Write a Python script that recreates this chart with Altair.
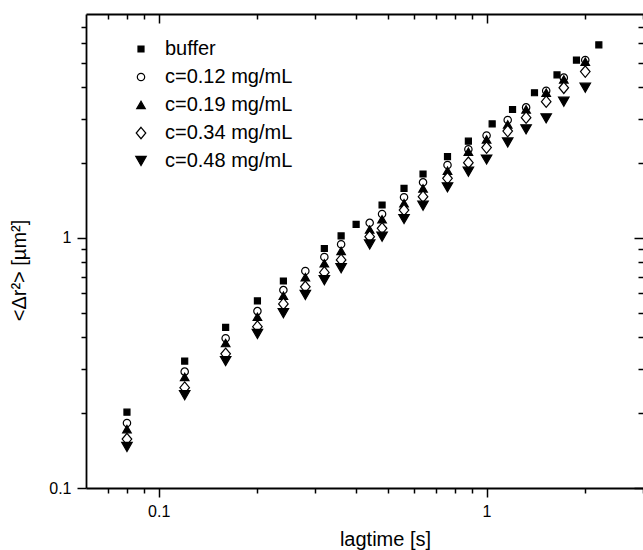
import altair as alt
import pandas as pd

series_names = ["buffer", "c=0.12 mg/mL", "c=0.19 mg/mL", "c=0.34 mg/mL", "c=0.48 mg/mL"]
shapes = ["square", "circle", "triangle-up", "M0,-1.2L1,0L0,1.2L-1,0Z", "triangle-down"]
fills = ["black", "white", "black", "white", "black"]
strokes = ["black", "black", "black", "black", "black"]
sizes = [36, 110, 42, 110, 42]

lag_buffer = [0.08, 0.12, 0.16, 0.2, 0.24, 0.32, 0.36, 0.40, 0.48, 0.56, 0.64, 0.76, 0.88,
              1.04, 1.2, 1.4, 1.64, 1.88, 2.2]
msd_buffer = [0.201, 0.322, 0.439, 0.56, 0.673, 0.908, 1.019, 1.134, 1.355, 1.58, 1.803, 2.115, 2.44,
              2.86, 3.266, 3.81, 4.49, 5.15, 5.92]

lag_c = [0.08, 0.12, 0.16, 0.2, 0.24, 0.28, 0.32, 0.36, 0.44, 0.48, 0.56, 0.64, 0.76, 0.88,
         1.0, 1.16, 1.32, 1.52, 1.72, 2.0]
msd_c012 = [0.182, 0.292, 0.397, 0.51, 0.619, 0.738, 0.839, 0.944, 1.15, 1.247, 1.455, 1.67, 1.959, 2.264,
            2.57, 2.965, 3.33, 3.88, 4.38, 5.15]
msd_c019 = [0.172, 0.278, 0.38, 0.484, 0.588, 0.697, 0.792, 0.887, 1.081, 1.188, 1.377, 1.58, 1.859, 2.215,
            2.48, 2.844, 3.27, 3.81, 4.31, 5.07]
msd_c034 = [0.157, 0.252, 0.344, 0.442, 0.545, 0.638, 0.728, 0.817, 1.012, 1.093, 1.294, 1.463, 1.733, 2.0,
            2.30, 2.677, 3.03, 3.51, 3.99, 4.63]
msd_c048 = [0.146, 0.235, 0.322, 0.413, 0.5, 0.592, 0.678, 0.757, 0.942, 1.012, 1.191, 1.346, 1.594, 1.842,
            2.06, 2.41, 2.72, 3.01, 3.51, 3.99]

x_major = [0.1, 1]
x_minor = [0.07, 0.08, 0.09, 0.2, 0.3, 0.4, 0.5, 0.6, 0.7, 0.8, 0.9, 2, 3]
y_major = [0.1, 1]
y_minor = [0.2, 0.3, 0.4, 0.5, 0.6, 0.7, 0.8, 0.9, 2, 3, 4, 5, 6, 7]

rows = []
for t, v in zip(lag_buffer, msd_buffer):
    rows.append({"series": series_names[0], "lag": t, "msd": v})
for name, vals in zip(series_names[1:], [msd_c012, msd_c019, msd_c034, msd_c048]):
    for t, v in zip(lag_c, vals):
        rows.append({"series": name, "lag": t, "msd": v})
df = pd.DataFrame(rows)

xscale = alt.Scale(type="log", domain=[0.06, 3.0], nice=False)
yscale = alt.Scale(type="log", domain=[0.1, 7.87], nice=False)

common = dict(tickWidth=1.5, tickColor="black", grid=False, domainColor="black", domainWidth=1.8)

leg = alt.Legend(title=None)

# data layer: bottom/left minor ticks plus the frame lines
points = alt.Chart(df).mark_point(filled=True, strokeWidth=1.2, opacity=1).encode(
    x=alt.X("lag:Q", scale=xscale,
            axis=alt.Axis(orient="bottom", values=x_minor, labels=False, title=None,
                          tickSize=5, domain=True, **common)),
    y=alt.Y("msd:Q", scale=yscale,
            axis=alt.Axis(orient="left", values=y_minor, labels=False, title=None,
                          tickSize=5, domain=True, **common)),
    shape=alt.Shape("series:N", scale=alt.Scale(domain=series_names, range=shapes), legend=leg),
    fill=alt.Fill("series:N", scale=alt.Scale(domain=series_names, range=fills), legend=leg),
    stroke=alt.Stroke("series:N", scale=alt.Scale(domain=series_names, range=strokes), legend=leg),
    size=alt.Size("series:N", scale=alt.Scale(domain=series_names, range=sizes), legend=leg),
)

# bottom/left major ticks with labels and titles
major = alt.Chart(df).mark_point(opacity=0).encode(
    x=alt.X("lag:Q", scale=xscale,
            axis=alt.Axis(orient="bottom", values=x_major, format="~g", tickSize=9, domain=False,
                          labelOverlap=False, labelFlush=False, labelPadding=6,
                          title="lagtime [s]", titleX=299, titleY=57,
                          titleBaseline="alphabetic", titleAlign="center", **common)),
    y=alt.Y("msd:Q", scale=yscale,
            axis=alt.Axis(orient="left", values=y_major, format="~g", tickSize=9, domain=False,
                          labelOverlap=False, labelFlush=False, labelPadding=6,
                          title="<Δr²> [µm²]", titleX=-67, titleY=256, titleAngle=270,
                          titleAlign="center", titleBaseline="middle", **common)),
)

# top/right inward minor ticks (top frame line drawn here)
mirror_minor = alt.Chart(df).mark_point(opacity=0).encode(
    x=alt.X("lag:Q", scale=xscale,
            axis=alt.Axis(orient="top", values=x_minor, labels=False, title=None,
                          tickSize=alt.ExprRef(expr="-5"), domain=True, **common)),
    y=alt.Y("msd:Q", scale=yscale,
            axis=alt.Axis(orient="right", values=y_minor, labels=False, title=None,
                          tickSize=alt.ExprRef(expr="-5"), domain=False, **common)),
)

# top/right inward major ticks
mirror_major = alt.Chart(df).mark_point(opacity=0).encode(
    x=alt.X("lag:Q", scale=xscale,
            axis=alt.Axis(orient="top", values=x_major, labels=False, title=None,
                          tickSize=alt.ExprRef(expr="-9"), domain=False, **common)),
    y=alt.Y("msd:Q", scale=yscale,
            axis=alt.Axis(orient="right", values=y_major, labels=False, title=None,
                          tickSize=alt.ExprRef(expr="-9"), domain=False, **common)),
)

chart = alt.layer(points, major, mirror_minor, mirror_major).resolve_axis(
    x="independent", y="independent"
).properties(
    width=557, height=474,
    autosize=alt.AutoSizeParams(type="none"),
    padding={"left": 86, "top": 14, "right": 0, "bottom": 62},
    background="white",
).configure_view(stroke=None).configure_axis(
    labelFont="Liberation Sans", labelFontSize=16, labelColor="black",
    titleFont="Liberation Sans", titleFontSize=20, titleFontWeight="normal", titleColor="black",
).configure_legend(
    orient="none", legendX=45, legendY=25, padding=0,
    labelFont="Liberation Sans", labelFontSize=20, labelColor="black",
    rowPadding=8, labelOffset=14,
    symbolStrokeWidth=1.2,
)

chart.save("out.html", embed_options={"renderer": "svg", "actions": False})
